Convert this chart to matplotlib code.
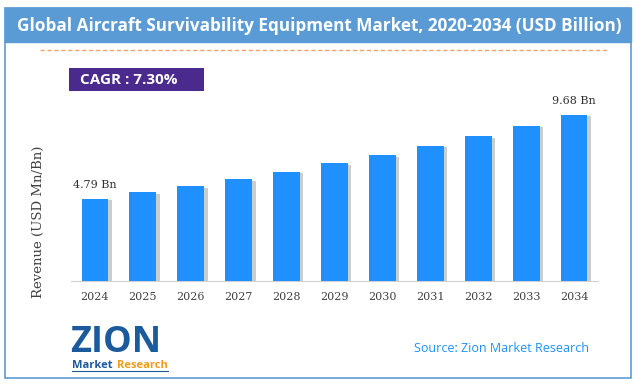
import matplotlib
matplotlib.use("Agg")
import matplotlib.pyplot as plt
from matplotlib.patches import Rectangle
import matplotlib.patheffects as pe

years = ["2024", "2025", "2026", "2027", "2028", "2029", "2030", "2031", "2032", "2033", "2034"]
revenue = [4.79, 5.16, 5.53, 5.92, 6.38, 6.85, 7.33, 7.88, 8.43, 9.05, 9.68]
title = "Global Aircraft Survivability Equipment Market, 2020-2034 (USD Billion)"
cagr = "CAGR : 7.30%"

W, H = 636, 385
fig = plt.figure(figsize=(W / 100, H / 100), dpi=100)

def px(x, y):
    # pixel coords (from top-left) -> figure fraction
    return x / W, 1 - y / H

# frame and title band
bg = fig.add_axes([0, 0, 1, 1])
bg.set_xlim(0, W)
bg.set_ylim(H, 0)
bg.axis("off")
bg.add_patch(Rectangle((5, 8), 626, 370, fill=False, ec="#5B9BD5", lw=1.2))
bg.add_patch(Rectangle((5, 8), 626, 34, fc="#5B9BD5", ec="#5B9BD5"))
bg.text(319, 26, title, color="white", fontsize=12.3, fontweight="bold",
        family="Open Sans", ha="center", va="center")
bg.plot([40, 608], [50, 50], ls=(0, (3, 2)), color="#F4A26A", lw=1)
bg.add_patch(Rectangle((69, 68), 135, 23, fc="#4B2A8E", ec="none"))
bg.text(80, 79.5, cagr, color="white", fontsize=11, fontweight="bold",
        family="Open Sans", ha="left", va="center")

# logo (text approximation)
bg.text(70, 352, "ZION", color="#1B5A9C", fontsize=26, fontweight="bold",
        family="Open Sans", ha="left", va="baseline")
bg.text(72, 368, "Market", color="#1B5A9C", fontsize=8, fontweight="bold",
        family="Open Sans", ha="left", va="baseline")
bg.text(117, 368, "Research", color="#F39A1E", fontsize=8, fontweight="bold",
        family="Open Sans", ha="left", va="baseline")
bg.plot([72, 168], [371, 371], color="#1B5A9C", lw=0.8)
bg.text(502, 348, "Source: Zion Market Research", color="#1E90FF", fontsize=9,
        family="Open Sans", ha="center", va="center")

# chart axes
l, b = px(71, 281)
r, t = px(598, 100)
ax = fig.add_axes([l, b, r - l, t - b])
x = range(len(years))
bars = ax.bar(x, revenue, width=0.56, color="#1E90FF", zorder=3)
for bar in bars:
    bar.set_path_effects([pe.SimplePatchShadow(offset=(2.5, -1), shadow_rgbFace="gray", alpha=0.4),
                          pe.Normal()])
ax.set_xlim(-0.5, len(years) - 0.5)
ax.set_ylim(0, 10.55)
ax.set_xticks(list(x))
ax.set_xticklabels(years, family="DejaVu Serif", fontsize=8, color="#404040")
ax.tick_params(axis="x", length=0, pad=8)
ax.set_yticks([])
for s in ["top", "right", "left"]:
    ax.spines[s].set_visible(False)
ax.spines["bottom"].set_color("#D0D0D0")
ax.set_ylabel("Revenue (USD Mn/Bn)", family="DejaVu Serif", fontsize=9.5,
              color="#404040")
ax.yaxis.set_label_coords(-0.05, 0.326)

ax.annotate("4.79 Bn", (0, revenue[0]), xytext=(0, 8), textcoords="offset points",
            ha="center", family="DejaVu Serif", fontsize=8, color="#303030")
ax.annotate("9.68 Bn", (len(years) - 1, revenue[-1]), xytext=(0, 8), textcoords="offset points",
            ha="center", family="DejaVu Serif", fontsize=8, color="#303030")

fig.savefig("out.png", dpi=100)
